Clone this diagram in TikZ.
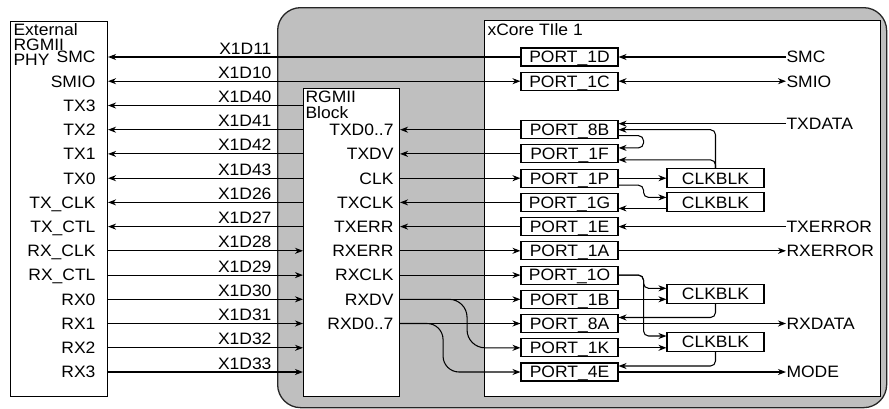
\documentclass[tikz,border=0pt]{standalone}
\usepackage{fontspec}
\setmainfont[FakeStretch=1.06]{Liberation Sans}
\usetikzlibrary{arrows.meta,calc}
\newcommand\dfont{\fontsize{16.5}{15}\selectfont}
\begin{document}
\begin{tikzpicture}[x=1pt,y=-1pt, font=\dfont, line width=1.05pt,
  >={Stealth[length=8pt,width=6pt,inset=2.5pt]},
  box/.style={draw, fill=white, inner sep=0pt, line width=1.05pt},
  port/.style={box, minimum width=97pt, minimum height=18pt, text height=11.7pt, text depth=0pt},
  clkb/.style={port, minimum height=19pt},
  lbl/.style={inner sep=0pt, text height=11.7pt, text depth=0pt, anchor=east},
  xl/.style={inner sep=0pt, anchor=base east},
  rl/.style={inner sep=0pt, text height=11.7pt, text depth=0pt, anchor=west},
  cr/.style={rounded corners=5pt}]
\useasboundingbox (0,0) rectangle (889,408);

% chip region
\node[draw=black!85, fill=black!25, line width=1.3pt, rounded corners=23pt,
  minimum width=609pt, minimum height=400pt, inner sep=0pt, anchor=north west] (chip) at (277,7) {};

% external PHY
\node[box, minimum width=97pt, minimum height=375pt, anchor=north west] (ext) at (10,21) {};
\node[inner sep=0pt, anchor=north west, align=left] (extT) at (13,23.5) {External\\RGMII\\PHY};
\node[lbl] (lSMC)   at (96,57.0)  {SMC};
\node[lbl] (lSMIO)  at (96,81.2)  {SMIO};
\node[lbl] (lTX3)   at (96,105.5) {TX3};
\node[lbl] (lTX2)   at (96,129.7) {TX2};
\node[lbl] (lTX1)   at (96,153.9) {TX1};
\node[lbl] (lTX0)   at (96,178.2) {TX0};
\node[lbl] (lTXCLK) at (96,202.4) {TX\_CLK};
\node[lbl] (lTXCTL) at (96,226.6) {TX\_CTL};
\node[lbl] (lRXCLK) at (96,250.8) {RX\_CLK};
\node[lbl] (lRXCTL) at (96,275.1) {RX\_CTL};
\node[lbl] (lRX0)   at (96,299.3) {RX0};
\node[lbl] (lRX1)   at (96,323.5) {RX1};
\node[lbl] (lRX2)   at (96,347.8) {RX2};
\node[lbl] (lRX3)   at (96,372.0) {RX3};

% pin labels
\node[xl] (x11) at (272,54.0)  {X1D11};
\node[xl] (x10) at (272,78.2)  {X1D10};
\node[xl] (x40) at (272,102.5) {X1D40};
\node[xl] (x41) at (272,126.7) {X1D41};
\node[xl] (x42) at (272,150.9) {X1D42};
\node[xl] (x43) at (272,175.2) {X1D43};
\node[xl] (x26) at (272,199.4) {X1D26};
\node[xl] (x27) at (272,223.6) {X1D27};
\node[xl] (x28) at (272,247.8) {X1D28};
\node[xl] (x29) at (272,272.1) {X1D29};
\node[xl] (x30) at (272,296.3) {X1D30};
\node[xl] (x31) at (272,320.5) {X1D31};
\node[xl] (x32) at (272,344.8) {X1D32};
\node[xl] (x33) at (272,369.0) {X1D33};

% RGMII block
\node[box, minimum width=96pt, minimum height=308pt, anchor=north west] (rg) at (303,88) {};
\node[inner sep=0pt, anchor=north west, align=left, font=\fontsize{16.5}{16}\selectfont] (rgT) at (305,90.3) {RGMII\\Block};
\node[lbl] (rTXD)   at (394,129.7) {TXD0..7};
\node[lbl] (rTXDV)  at (394,153.9) {TXDV};
\node[lbl] (rCLK)   at (394,178.2) {CLK};
\node[lbl] (rTXCLK) at (394,202.4) {TXCLK};
\node[lbl] (rTXERR) at (394,226.6) {TXERR};
\node[lbl] (rRXERR) at (394,250.8) {RXERR};
\node[lbl] (rRXCLK) at (394,275.1) {RXCLK};
\node[lbl] (rRXDV)  at (394,299.3) {RXDV};
\node[lbl] (rRXD)   at (394,323.5) {RXD0..7};

% xCore tile
\node[box, minimum width=396pt, minimum height=376pt, anchor=north west] (xc) at (484,20) {};
\node[inner sep=0pt, anchor=north west] (xcT) at (487,23.5) {xCore TIle 1};

\node[port] (p1D) at (569.5,57.0)  {PORT\_1D};
\node[port] (p1C) at (569.5,81.2)  {PORT\_1C};
\node[port] (p8B) at (569.5,129.7) {PORT\_8B};
\node[port] (p1F) at (569.5,153.9) {PORT\_1F};
\node[port] (p1P) at (569.5,178.2) {PORT\_1P};
\node[port] (p1G) at (569.5,202.4) {PORT\_1G};
\node[port] (p1E) at (569.5,226.6) {PORT\_1E};
\node[port] (p1A) at (569.5,250.8) {PORT\_1A};
\node[port] (p1O) at (569.5,275.1) {PORT\_1O};
\node[port] (p1B) at (569.5,299.3) {PORT\_1B};
\node[port] (p8A) at (569.5,323.5) {PORT\_8A};
\node[port] (p1K) at (569.5,347.8) {PORT\_1K};
\node[port] (p4E) at (569.5,372.0) {PORT\_4E};

\node[clkb] (clk1) at (715.5,178.2) {CLKBLK};
\node[clkb] (clk2) at (715.5,202.4) {CLKBLK};
\node[clkb] (clk3) at (715.5,293.8) {CLKBLK};
\node[clkb] (clk4) at (715.5,342.0) {CLKBLK};

\node[rl] (sSMC)     at (786,57.0)  {SMC};
\node[rl] (sSMIO)    at (786,81.2)  {SMIO};
\node[rl] (sTXDATA)  at (786,123.7) {TXDATA};
\node[rl] (sTXERROR) at (786,226.6) {TXERROR};
\node[rl] (sRXERROR) at (786,250.8) {RXERROR};
\node[rl] (sRXDATA)  at (786,323.5) {RXDATA};
\node[rl] (sMODE)    at (786,372.0) {MODE};

% external <-> chip
\draw[->]  (p1D.west) -- (ext.east |- p1D.west);
\draw[<->] (ext.east |- p1C.west) -- (p1C.west);
\draw[->] (rg.west |- lTX3.east)   -- (ext.east |- lTX3.east);
\draw[->] (rg.west |- lTX2.east)   -- (ext.east |- lTX2.east);
\draw[->] (rg.west |- lTX1.east)   -- (ext.east |- lTX1.east);
\draw[->] (rg.west |- lTX0.east)   -- (ext.east |- lTX0.east);
\draw[->] (rg.west |- lTXCLK.east) -- (ext.east |- lTXCLK.east);
\draw[->] (rg.west |- lTXCTL.east) -- (ext.east |- lTXCTL.east);
\draw[->] (ext.east |- lRXCLK.east) -- (rg.west |- lRXCLK.east);
\draw[->] (ext.east |- lRXCTL.east) -- (rg.west |- lRXCTL.east);
\draw[->] (ext.east |- lRX0.east)   -- (rg.west |- lRX0.east);
\draw[->] (ext.east |- lRX1.east)   -- (rg.west |- lRX1.east);
\draw[->] (ext.east |- lRX2.east)   -- (rg.west |- lRX2.east);
\draw[->] (ext.east |- lRX3.east)   -- (rg.west |- lRX3.east);

% RGMII <-> ports
\draw[->] (p8B.west) -- (rg.east |- p8B.west);
\draw[->] (p1F.west) -- (rg.east |- p1F.west);
\draw[->] (rg.east |- p1P.west) -- (p1P.west);
\draw[->] (p1G.west) -- (rg.east |- p1G.west);
\draw[->] (p1E.west) -- (rg.east |- p1E.west);
\draw[->] (rg.east |- p1A.west) -- (p1A.west);
\draw[->] (rg.east |- p1O.west) -- (p1O.west);
\draw[->] (rg.east |- p1B.west) -- (p1B.west);
\draw[->] (rg.east |- p8A.west) -- (p8A.west);
\draw[->, rounded corners=18pt] (rg.east |- p1B.west) -| ($(rg.east |- p1K.west)+(67,0)$) -- (p1K.west);
\draw[->, rounded corners=16pt] (rg.east |- p8A.west) -| ($(rg.east |- p4E.west)+(43,0)$) -- (p4E.west);

% ports <-> outside signals
\draw[->]  (sSMC.west) -- (p1D.east);
\draw[<->] (p1C.east) -- (sSMIO.west);
\draw[->]  (sTXDATA.west) -- (p8B.east |- sTXDATA.west);
\draw[->]  (sTXERROR.west) -- (p1E.east);
\draw[->]  (p1A.east) -- (sRXERROR.west);
\draw[->]  (p8A.east) -- (sRXDATA.west);
\draw[->]  (p4E.east) -- (sMODE.west);

% clock blocks, transmit side
\draw[->, cr] (clk1.north) |- (p8B.east);
\draw[->, cr] (clk1.north) |- ($(p1F.east)+(0,6)$);
\draw[->, cr] ($(p8B.east)+(0,6)$) -- ++(25,0) |- ($(p1F.east)+(0,-6)$);
\draw[->] (p1P.east) -- (clk1.west |- p1P.east);
\draw[->, cr] ($(p1P.east)+(0,7)$) -- ++(25,0) |- ($(clk2.west)+(0,-5)$);
\draw[->] ($(clk2.west)+(0,6)$) -- ($(p1G.east)+(0,6)$);

% clock blocks, receive side
\draw[->, cr] (p1O.east) -- ++(25,0) |- ($(clk3.west)+(0,-5.5)$);
\draw[->, cr] (p1O.east) -- ++(25,0) |- ($(clk4.west)+(0,-6)$);
\draw[->] (p1B.east) -- (clk3.west |- p1B.east);
\draw[->] (p1K.east) -- (clk4.west |- p1K.east);
\draw[->, cr] (clk3.south) |- ($(p8A.east)+(0,-6)$);
\draw[->, cr] (clk4.south) |- ($(p4E.east)+(0,-6)$);
\end{tikzpicture}
\end{document}
